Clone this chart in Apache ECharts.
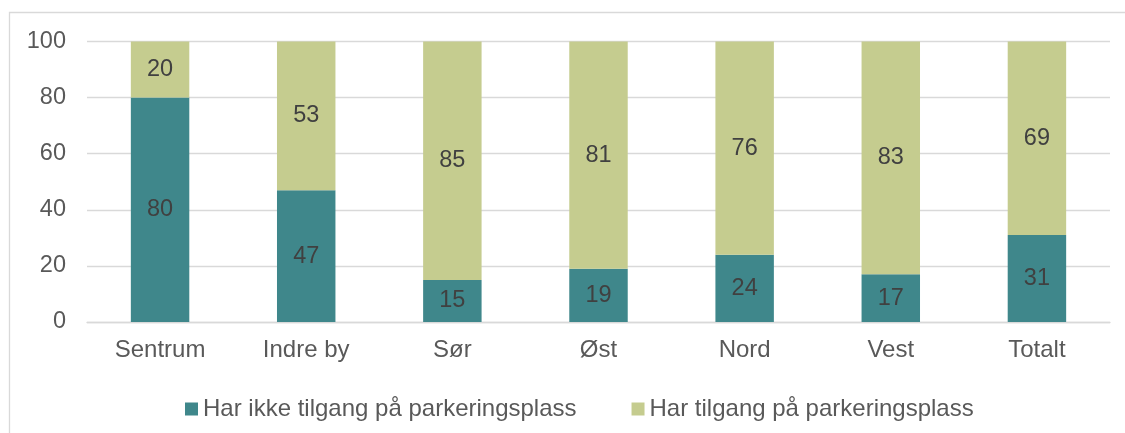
<!DOCTYPE html>
<html>
<head>
<meta charset="utf-8">
<script src="https://cdn.jsdelivr.net/npm/echarts@6/dist/echarts.min.js"></script>
<style>
	html, body { margin: 0; padding: 0; background: #fff; }
	#chart { width: 1125px; height: 433px; }
</style>
</head>
<body>
<div id="chart"></div>
<script>
// områder
var omraader = ['Sentrum', 'Indre by', 'Sør', 'Øst', 'Nord', 'Vest', 'Totalt'];
var seriesNavn = ['Har ikke tilgang på parkeringsplass', 'Har tilgang på parkeringsplass'];
var ikkeTilgang = [80, 47, 15, 19, 24, 17, 31];
var harTilgang = [20, 53, 85, 81, 76, 83, 69];

var fontFam = '"Liberation Sans", Arial, sans-serif';

var myChart = echarts.init(document.getElementById('chart'));

function lagSerie(navn, data, farge){
	return {
		name : navn,
		type : 'bar',
		stack : 'tot',
		barWidth : '40%',
		data : data,
		itemStyle : { color : farge },
		label : {
			show : true,
			position : 'inside',
			color : '#404040',
			fontSize : 23.5,
			fontFamily : fontFam
		},
		emphasis : { disabled : true }
	};
}

var option = {
	animation : false,
	graphic : [{
		type : 'rect',
		shape : { x : 9.5, y : 12.5, width : 1200, height : 500 },
		style : { fill : 'none', stroke : '#d9d9d9', lineWidth : 1.3 },
		silent : true
	}],
	grid : {
		left : 87,
		right : 15,
		top : 41.5,
		bottom : 111
	},
	legend : {
		left : 180,
		top : 392,
		itemWidth : 13,
		itemHeight : 13,
		itemGap : 55,
		icon : 'rect',
		textStyle : {
			color : '#595959',
			fontSize : 24,
			fontFamily : fontFam
		},
		data : seriesNavn
	},
	xAxis : {
		type : 'category',
		data : omraader,
		axisLine : { show : true, lineStyle : { color : '#d9d9d9', width : 1.3 } },
		axisTick : { show : false },
		axisLabel : {
			color : '#595959',
			fontSize : 24,
			fontFamily : fontFam,
			margin : 16
		}
	},
	yAxis : {
		type : 'value',
		min : 0,
		max : 100,
		interval : 20,
		axisLine : { show : false },
		axisTick : { show : false },
		splitLine : { lineStyle : { color : '#d9d9d9', width : 1.3 } },
		axisLabel : {
			color : '#595959',
			fontSize : 23.5,
			fontFamily : fontFam,
			margin : 21
		}
	},
	series : [
		lagSerie(seriesNavn[0], ikkeTilgang, '#3f878b'),
		lagSerie(seriesNavn[1], harTilgang, '#c5cc8f')
	]
};
myChart.setOption(option);
</script>
</body>
</html>
